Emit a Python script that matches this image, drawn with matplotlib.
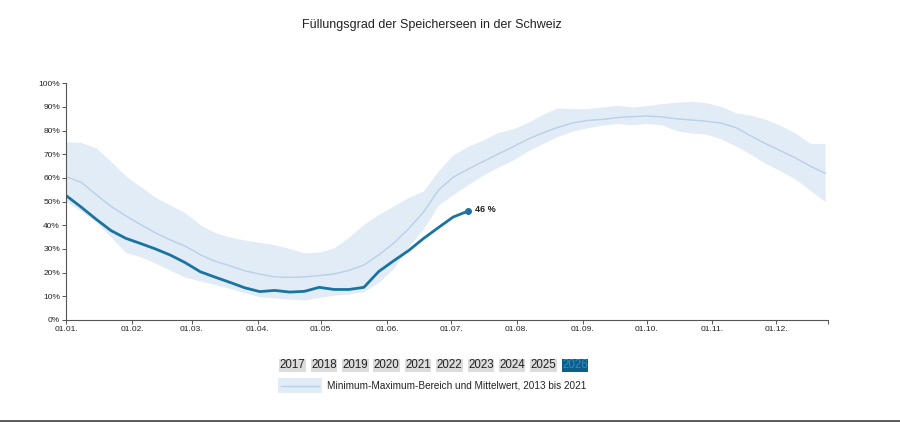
import matplotlib
matplotlib.use("Agg")
import matplotlib.pyplot as plt
from matplotlib.patches import Rectangle
from matplotlib.lines import Line2D
import numpy as np

plt.rcParams['font.family'] = ['Liberation Sans', 'DejaVu Sans']

# weekly data, week index 0..51 (days = 7*week)
band_max = [75.3, 75.0, 72.7, 67.0, 60.8, 56.3, 51.8, 48.5, 45.3, 40.2, 36.9, 35.0, 33.8,
            32.8, 31.8, 30.2, 28.3, 28.7, 30.5, 35.0, 40.5, 44.6, 48.2, 51.8, 54.5, 63.0,
            69.8, 73.4, 76.0, 79.2, 80.7, 83.4, 86.8, 89.6, 89.3, 89.3, 90.0, 90.7, 90.0,
            90.6, 91.4, 92.0, 92.4, 91.8, 90.2, 87.6, 86.5, 84.8, 82.2, 79.0, 74.6, 74.6]
band_min = [50.0, 46.0, 41.5, 35.0, 28.5, 26.7, 24.0, 21.0, 18.0, 16.5, 15.0, 13.3, 11.5,
            9.8, 9.4, 8.8, 8.5, 9.5, 10.5, 11.0, 12.0, 16.0, 21.8, 31.0, 38.5, 48.5,
            53.0, 57.2, 61.2, 64.5, 67.5, 71.3, 74.5, 77.5, 79.8, 81.2, 82.3, 83.0, 82.5,
            83.0, 82.5, 80.0, 79.0, 78.5, 76.5, 73.5, 70.0, 66.2, 63.0, 59.5, 54.8, 50.0]
mean_vals = [60.5, 58.2, 53.0, 48.0, 44.0, 40.3, 36.8, 33.8, 31.2, 27.6, 24.8, 22.9, 20.8,
             19.4, 18.2, 18.0, 18.2, 18.8, 19.4, 21.0, 23.2, 27.5, 32.4, 38.5, 45.5, 54.8,
             60.3, 63.7, 66.9, 70.0, 73.1, 76.3, 79.0, 81.3, 83.2, 84.3, 84.7, 85.5, 85.9,
             86.2, 85.8, 85.0, 84.5, 84.0, 83.2, 81.3, 77.8, 74.5, 71.5, 68.5, 65.0, 62.0]
vals_2026 = [52.5, 47.7, 42.6, 37.8, 34.5, 32.3, 30.0, 27.4, 24.2, 20.4, 18.1, 15.9, 13.6,
             12.0, 12.5, 11.8, 12.1, 13.8, 12.9, 12.9, 13.8, 20.5, 25.0, 29.3, 34.4, 39.0,
             43.5, 46.0]
years = ['2017', '2018', '2019', '2020', '2021', '2022', '2023', '2024', '2025', '2026']
month_labels = ['01.01.', '01.02.', '01.03.', '01.04.', '01.05.', '01.06.',
                '01.07.', '01.08.', '01.09.', '01.10.', '01.11.', '01.12.']
month_days = [0, 31, 59, 90, 120, 151, 181, 212, 243, 273, 304, 334]
title = 'Füllungsgrad der Speicherseen in der Schweiz'
legend_text = 'Minimum-Maximum-Bereich und Mittelwert, 2013 bis 2021'

days_all = np.arange(len(band_max)) * 7
days_2026 = np.arange(len(vals_2026)) * 7

fig = plt.figure(figsize=(9, 4.22), dpi=100)
ax = fig.add_axes([66.3/900, 1-320/422, (828.3-66.3)/900, (320-83.3)/422])

band_col = '#e1ecf7'
mean_col = '#b8d0e8'
line_col = '#1a73a0'

ax.fill_between(days_all, band_min, band_max, color=band_col, lw=0)
ax.plot(days_all, mean_vals, color=mean_col, lw=1.0)
ax.plot(days_2026, vals_2026, color=line_col, lw=2.0, solid_capstyle='round')
ax.plot(days_2026[-1], vals_2026[-1], 'o', color=line_col, ms=4)
ax.annotate(f'{int(round(vals_2026[-1]))} %', (days_2026[-1], vals_2026[-1]),
            xytext=(5, 1), textcoords='offset points', fontsize=6.5,
            fontweight='bold', color='#222222', va='center')

ax.set_xlim(0, 358.5)
ax.set_ylim(0, 100)
ax.set_xticks(list(month_days) + [358.5])
ax.set_xticklabels(month_labels + [''])
ax.set_yticks(np.arange(0, 101, 10))
ax.set_yticklabels([f'{v}%' for v in range(0, 101, 10)])
for s in ['top', 'right']:
    ax.spines[s].set_visible(False)
for s in ['left', 'bottom']:
    ax.spines[s].set_color('#555555')
    ax.spines[s].set_linewidth(0.8)
ax.tick_params(axis='both', colors='#555555', labelcolor='#222222', labelsize=6,
               length=3, width=0.7, pad=1.5)

fig.text(432/900, 1-25/422, title, ha='center', va='center', fontsize=9, color='#222222')

# year buttons
bw, bh = 26.5, 12.4
x0, step = 279.3, 31.38
ybot = 371.7
for i, y in enumerate(years):
    xl = x0 + i*step
    sel = (y == '2026')
    fc = '#0c5f8a' if sel else '#dcdcdc'
    tc = '#2e8fc4' if sel else '#222222'
    fig.patches.append(Rectangle((xl/900, 1-ybot/422), bw/900, bh/422,
                                 transform=fig.transFigure, facecolor=fc,
                                 edgecolor='none'))
    fig.text((xl+bw/2)/900, 1-(ybot-bh/2)/422, y, ha='center', va='center',
             fontsize=8.3, color=tc)

# band legend
fig.patches.append(Rectangle((278/900, 1-393/422), 43.7/900, 15/422,
                             transform=fig.transFigure, facecolor=band_col,
                             edgecolor='none'))
fig.lines.append(Line2D([281/900, 319/900], [1-385.7/422, 1-385.7/422],
                        transform=fig.transFigure, color=mean_col, lw=1.0))
fig.text(327/900, 1-385.7/422, legend_text, ha='left', va='center', fontsize=7.2,
         color='#222222')

# bottom rule
fig.lines.append(Line2D([0, 1], [1-421/422, 1-421/422], transform=fig.transFigure,
                        color='#555555', lw=2))

fig.savefig('out.png', dpi=100)
